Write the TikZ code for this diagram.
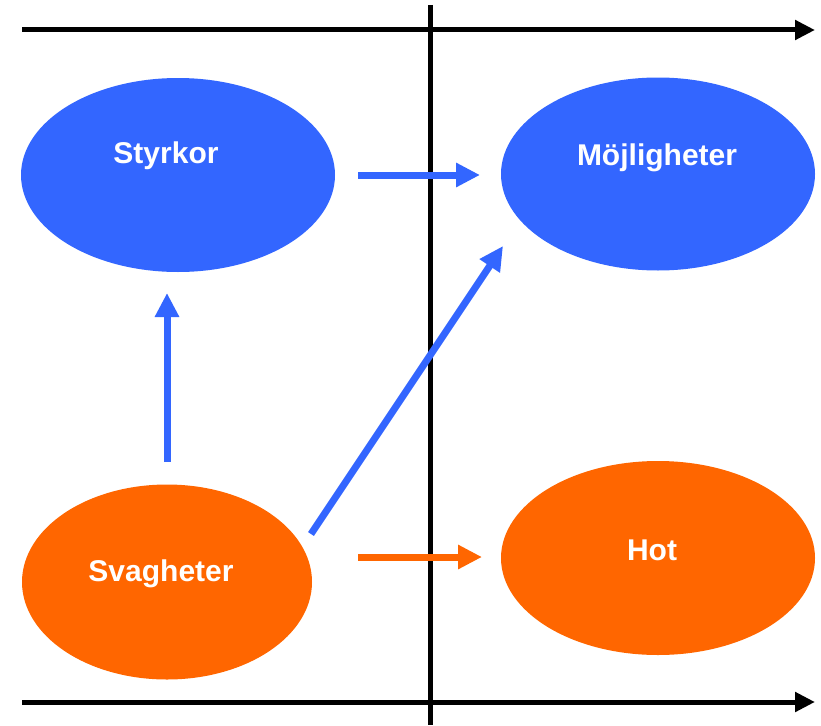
\documentclass[tikz,border=0pt]{standalone}
\usepackage{fontspec}
\setmainfont{Liberation Sans}
\usetikzlibrary{arrows.meta,shapes.geometric}
\definecolor{swotblue}{HTML}{3366FF}
\definecolor{swotorange}{HTML}{FF6600}
\tikzset{
  blob/.style={ellipse, inner sep=0pt, draw=none},
  lbl/.style={text=white, font=\fontsize{30}{35}\selectfont\bfseries, inner sep=0pt},
  axis/.style={line width=5pt, -{Triangle[length=20pt,width=19pt]}},
  flow/.style={line width=7pt, -{Triangle[length=24pt,width=23pt]}},
}
\begin{document}
\begin{tikzpicture}[x=1pt,y=-1pt]
\useasboundingbox (0,0) rectangle (821,725);
% ellipses
\node[blob, fill=swotblue, minimum width=314pt, minimum height=194pt] (S) at (178,175) {};
\node[blob, fill=swotblue, minimum width=314pt, minimum height=193pt] (O) at (658,174) {};
\node[blob, fill=swotorange, minimum width=290pt, minimum height=195pt] (W) at (167,582) {};
\node[blob, fill=swotorange, minimum width=314pt, minimum height=194pt] (T) at (658,558) {};
% labels
\node[lbl] (Sl) at (166,156) {Styrkor};
\node[lbl] (Ol) at (657,158) {Möjligheter};
\node[lbl] (Wl) at (161,574) {Svagheter};
\node[lbl] (Tl) at (652,550) {Hot};
% axes
\coordinate (tl) at (22,30);
\coordinate (tr) at (815,30);
\coordinate (bl) at (22,702);
\coordinate (br) at (815,702);
\coordinate (vt) at (430,5);
\coordinate (vb) at (430,725);
\draw[axis] (tl) -- (tr);
\draw[axis] (bl) -- (br);
\draw[line width=5pt] (vt) -- (vb);
% arrows
\coordinate (a1s) at (358,175);
\coordinate (a1e) at (480,175);
\coordinate (a2s) at (167,462);
\coordinate (a2e) at (167,293);
\coordinate (a3s) at (311,534);
\coordinate (a3e) at (503,246);
\coordinate (a4s) at (358,557);
\coordinate (a4e) at (482,557);
\draw[flow, swotblue] (a1s) -- (a1e);
\draw[flow, swotblue] (a2s) -- (a2e);
\draw[flow, swotblue] (a3s) -- (a3e);
\draw[flow, swotorange] (a4s) -- (a4e);
\end{tikzpicture}
\end{document}
